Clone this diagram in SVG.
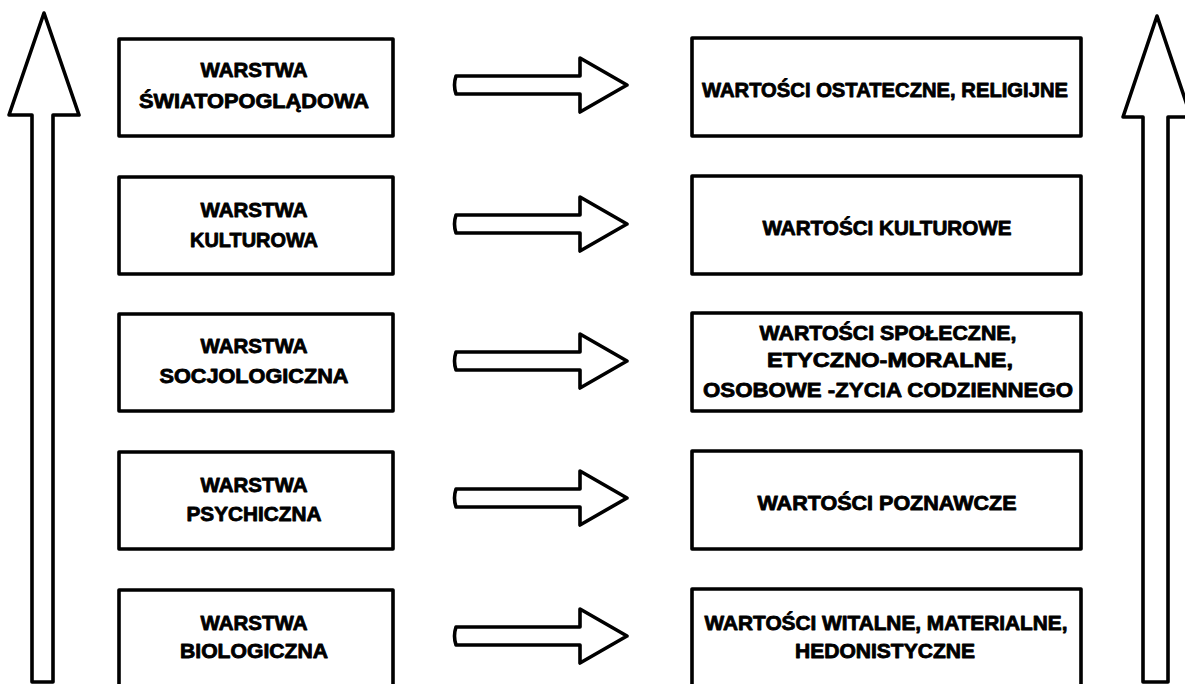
<svg xmlns="http://www.w3.org/2000/svg" width="1185" height="684" viewBox="0 0 1185 684">
<style>
.box{fill:#fff;stroke:#000;stroke-width:3.6;stroke-linejoin:round}
.arr{fill:#fff;stroke:#000;stroke-width:3.6;stroke-linejoin:round;stroke-linecap:round}
.t{font-family:"Liberation Sans",Arial,sans-serif;font-weight:bold;font-size:19.5px;fill:#000;stroke:#000;stroke-width:0.8;stroke-linejoin:round;text-anchor:middle}
</style>
<rect width="1185" height="684" fill="#fff"/>
<g id="connectors">
<path class="arr" d="M32,682 L32,115 L9,115 L44,13 L79,115 L53,115 L53,682 Z"/>
<path class="arr" d="M1143,682 L1143,117 L1123,117 L1157,16 L1191,117 L1168,117 L1168,682 Z"/>
<path class="arr" d="M456,76 L580,76 L580,58 L627,85 L580,112 L580,94 L456,94 Q453,85 456,76 Z"/>
<path class="arr" d="M456,215 L580,215 L580,197 L627,224 L580,251 L580,233 L456,233 Q453,224 456,215 Z"/>
<path class="arr" d="M456,352 L580,352 L580,334 L627,361 L580,388 L580,370 L456,370 Q453,361 456,352 Z"/>
<path class="arr" d="M456,489 L580,489 L580,471 L627,498 L580,525 L580,507 L456,507 Q453,498 456,489 Z"/>
<path class="arr" d="M456,627 L580,627 L580,609 L627,636 L580,663 L580,645 L456,645 Q453,636 456,627 Z"/>
</g>
<g id="layer-worldview">
<rect class="box" x="119" y="39" width="274" height="97"/>
<text class="t" x="254" y="77" textLength="107" lengthAdjust="spacingAndGlyphs">WARSTWA</text>
<text class="t" x="254" y="108" textLength="230" lengthAdjust="spacingAndGlyphs">ŚWIATOPOGLĄDOWA</text>
</g>
<g id="layer-cultural">
<rect class="box" x="119" y="177" width="274" height="97"/>
<text class="t" x="254" y="217" textLength="107" lengthAdjust="spacingAndGlyphs">WARSTWA</text>
<text class="t" x="254" y="247" textLength="128" lengthAdjust="spacingAndGlyphs">KULTUROWA</text>
</g>
<g id="layer-sociological">
<rect class="box" x="119" y="314" width="274" height="97"/>
<text class="t" x="254" y="353" textLength="107" lengthAdjust="spacingAndGlyphs">WARSTWA</text>
<text class="t" x="254" y="383" textLength="189" lengthAdjust="spacingAndGlyphs">SOCJOLOGICZNA</text>
</g>
<g id="layer-psychic">
<rect class="box" x="119" y="452" width="274" height="97"/>
<text class="t" x="254" y="492" textLength="107" lengthAdjust="spacingAndGlyphs">WARSTWA</text>
<text class="t" x="254" y="521" textLength="135" lengthAdjust="spacingAndGlyphs">PSYCHICZNA</text>
</g>
<g id="layer-biological">
<rect class="box" x="119" y="590" width="274" height="110"/>
<text class="t" x="254" y="630" textLength="107" lengthAdjust="spacingAndGlyphs">WARSTWA</text>
<text class="t" x="254" y="658" textLength="148" lengthAdjust="spacingAndGlyphs">BIOLOGICZNA</text>
</g>
<g id="values-ultimate">
<rect class="box" x="692" y="38" width="389" height="98"/>
<text class="t" x="885" y="97" textLength="366" lengthAdjust="spacingAndGlyphs">WARTOŚCI OSTATECZNE, RELIGIJNE</text>
</g>
<g id="values-cultural">
<rect class="box" x="692" y="176" width="389" height="98"/>
<text class="t" x="887" y="235" textLength="249" lengthAdjust="spacingAndGlyphs">WARTOŚCI KULTUROWE</text>
</g>
<g id="values-social">
<rect class="box" x="692" y="313" width="389" height="98"/>
<text class="t" x="888" y="340" textLength="257" lengthAdjust="spacingAndGlyphs">WARTOŚCI SPOŁECZNE,</text>
<text class="t" x="890" y="367" textLength="246" lengthAdjust="spacingAndGlyphs">ETYCZNO-MORALNE,</text>
<text class="t" x="888" y="397" style="font-size:21px" textLength="370" lengthAdjust="spacingAndGlyphs">OSOBOWE -ZYCIA CODZIENNEGO</text>
</g>
<g id="values-cognitive">
<rect class="box" x="692" y="451" width="389" height="98"/>
<text class="t" x="887" y="510" textLength="259" lengthAdjust="spacingAndGlyphs">WARTOŚCI POZNAWCZE</text>
</g>
<g id="values-vital">
<rect class="box" x="692" y="589" width="389" height="110"/>
<text class="t" x="886" y="630" textLength="363" lengthAdjust="spacingAndGlyphs">WARTOŚCI WITALNE, MATERIALNE,</text>
<text class="t" x="885" y="658" textLength="180" lengthAdjust="spacingAndGlyphs">HEDONISTYCZNE</text>
</g>
</svg>
